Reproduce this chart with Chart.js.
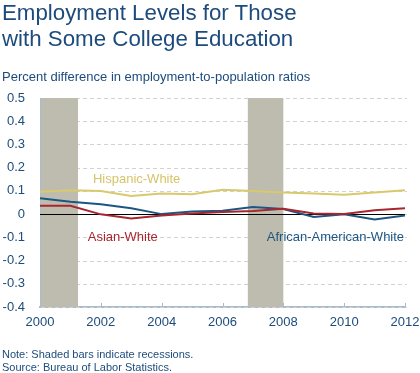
<!DOCTYPE html>
<html>
<head>
<meta charset="utf-8">
<script src="https://cdn.jsdelivr.net/npm/chart.js@4"></script>
<style>
  body { margin: 0; background: #fff; font-family: "Liberation Sans", Arial, sans-serif; }
  #wrap { position: relative; width: 420px; height: 373px; overflow: hidden; }
  #chart { position: absolute; left: 0; top: 0; }
  .title { position: absolute; left: 2px; top: 0px; font-size: 22.3px; line-height: 25.5px; color: #1d4b7c; }
  .sub { position: absolute; left: 2px; top: 69px; font-size: 13px; color: #1d4b7c; }
  .notes { position: absolute; left: 2px; top: 348px; font-size: 11px; line-height: 13px; color: #1d4b7c; }
</style>
</head>
<body>
<div id="wrap">
  <canvas id="chart" width="420" height="373"></canvas>
  <div class="title">Employment Levels for Those<br>with Some College Education</div>
  <div class="sub">Percent difference in employment-to-population ratios</div>
  <div class="notes">Note: Shaded bars indicate recessions.<br>Source: Bureau of Labor Statistics.</div>
</div>
<script>
  // Data
  const years = [2000, 2001, 2002, 2003, 2004, 2005, 2006, 2007, 2008, 2009, 2010, 2011, 2012];
  const hispanicWhite = [0.096, 0.103, 0.099, 0.078, 0.089, 0.086, 0.105, 0.099, 0.093, 0.089, 0.083, 0.093, 0.103];
  const africanAmericanWhite = [0.068, 0.053, 0.042, 0.025, 0.000, 0.011, 0.014, 0.031, 0.022, -0.012, -0.001, -0.023, -0.006];
  const asianWhite = [0.036, 0.036, -0.001, -0.019, -0.006, 0.003, 0.009, 0.013, 0.023, 0.003, 0.001, 0.017, 0.025];
  const recessions = [[2000, 2001.25], [2006.8, 2008.0]];
  const xTicks = { min: 2000, max: 2012, step: 2 };
  const yTicks = { min: -0.4, max: 0.5, step: 0.1 };

  // inline series labels: [text, x, y, align, colour]
  const seriesLabels = [
    ['Hispanic-White', 2001.74, 0.135, 'left', '#d6c46a'],
    ['Asian-White', 2001.57, -0.116, 'left', '#a8262f'],
    ['African-American-White', 2011.97, -0.116, 'right', '#1d5683']
  ];

  const axisColor = '#a9bccd';
  const textColor = '#1d4b7c';
  const fontFamily = '"Liberation Sans", Arial, sans-serif';

  const toPoints = arr => arr.map((v, i) => ({ x: years[i], y: v }));

  const decorations = {
    id: 'decorations',
    beforeDatasetsDraw(chart) {
      const { ctx, chartArea, scales: { x, y } } = chart;
      ctx.save();
      // dashed horizontal grid
      ctx.strokeStyle = '#d2d2d2';
      ctx.lineWidth = 1;
      ctx.setLineDash([4, 3]);
      y.ticks.forEach(t => {
        const py = Math.round(y.getPixelForValue(t.value)) + 0.5;
        ctx.beginPath();
        ctx.moveTo(chartArea.left + 1, py);
        ctx.lineTo(chartArea.right + 2, py);
        ctx.stroke();
      });
      ctx.setLineDash([]);
      // recession bars
      ctx.fillStyle = '#bdbcae';
      recessions.forEach(([a, b]) => {
        const x0 = x.getPixelForValue(a), x1 = x.getPixelForValue(b);
        ctx.fillRect(x0 + 1, chartArea.top, x1 - x0 - 1, chartArea.bottom - chartArea.top);
      });
      // zero line
      const z = Math.round(y.getPixelForValue(0)) + 0.5;
      ctx.strokeStyle = '#000';
      ctx.beginPath();
      ctx.moveTo(chartArea.left, z);
      ctx.lineTo(chartArea.right, z);
      ctx.stroke();
      // tick marks pointing up from the bottom axis
      ctx.strokeStyle = axisColor;
      x.ticks.forEach(t => {
        const px = Math.round(x.getPixelForValue(t.value)) + 0.5;
        ctx.beginPath();
        ctx.moveTo(px, chartArea.bottom);
        ctx.lineTo(px, chartArea.bottom - 4);
        ctx.stroke();
      });
      ctx.restore();
    },
    afterDatasetsDraw(chart) {
      const { ctx, scales: { x, y } } = chart;
      ctx.save();
      ctx.font = '13px ' + fontFamily;
      ctx.textBaseline = 'alphabetic';
      seriesLabels.forEach(([text, lx, ly, align, color]) => {
        ctx.fillStyle = color;
        ctx.textAlign = align;
        ctx.fillText(text, x.getPixelForValue(lx), y.getPixelForValue(ly));
      });
      ctx.restore();
    }
  };

  new Chart(document.getElementById('chart'), {
    type: 'line',
    data: {
      datasets: [{
        label: 'Hispanic-White',
        data: toPoints(hispanicWhite),
        borderColor: '#d9c96c',
        borderWidth: 2
      }, {
        label: 'Asian-White',
        data: toPoints(asianWhite),
        borderColor: '#a8262f',
        borderWidth: 2
      }, {
        label: 'African-American-White',
        data: toPoints(africanAmericanWhite),
        borderColor: '#1d5683',
        borderWidth: 2
      }]
    },
    options: {
      responsive: false,
      animation: false,
      events: [],
      elements: { point: { radius: 0 }, line: { tension: 0 } },
      layout: { padding: { left: 0, right: 15, top: 98, bottom: 36 } },
      plugins: {
        legend: { display: false },
        tooltip: { enabled: false }
      },
      scales: {
        x: {
          type: 'linear',
          min: xTicks.min,
          max: xTicks.max,
          afterFit: s => { s.height = 30; s.paddingLeft = 0; s.paddingRight = 0; },
          grid: { display: false, drawTicks: false },
          border: { display: true, color: axisColor, width: 2 },
          ticks: {
            stepSize: xTicks.step,
            padding: 8,
            color: textColor,
            font: { family: fontFamily, size: 13 },
            callback: v => String(v)
          }
        },
        y: {
          min: yTicks.min,
          max: yTicks.max,
          afterFit: s => { s.width = 40; s.paddingTop = 0; s.paddingBottom = 0; },
          grid: { display: false, drawTicks: false },
          border: { display: true, color: axisColor, width: 1 },
          ticks: {
            stepSize: yTicks.step,
            padding: 15,
            color: textColor,
            font: { family: fontFamily, size: 13 },
            callback: v => String(Number(v.toFixed(1)))
          }
        }
      }
    },
    plugins: [decorations]
  });
</script>
</body>
</html>
